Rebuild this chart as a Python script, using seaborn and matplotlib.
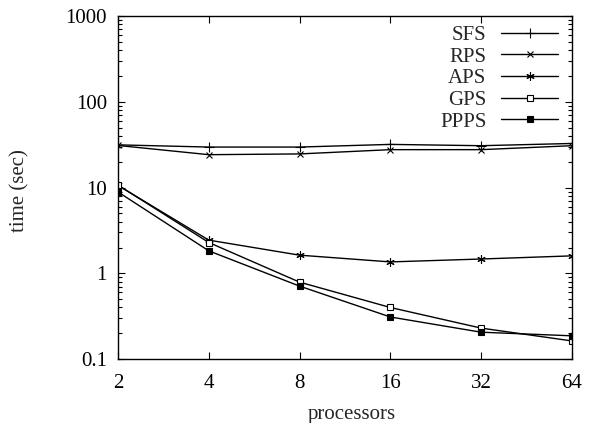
import numpy as np
import pandas as pd
import seaborn as sns
import matplotlib.pyplot as plt
from matplotlib.ticker import FixedLocator, NullLocator, LogLocator, NullFormatter

# --------------------------------------------------------------
# Data
# --------------------------------------------------------------
processors = [2, 4, 8, 16, 32, 64]
sfs = [31.5, 29.7, 29.7, 31.9, 30.8, 32.7]
rps = [31.0, 24.2, 24.7, 27.7, 27.7, 30.8]
aps = [10.6, 2.44, 1.63, 1.36, 1.47, 1.60]
gps = [10.7, 2.29, 0.79, 0.40, 0.23, 0.163]
ppps = [8.9, 1.83, 0.71, 0.31, 0.206, 0.187]

series_names = ["SFS", "RPS", "APS", "GPS", "PPPS"]
series_values = [sfs, rps, aps, gps, ppps]

# marker styles per series (gnuplot look)
marker_styles = {
    "SFS": dict(marker="+", markersize=7, mfc="black", mew=0.8),
    "RPS": dict(marker="x", markersize=5, mfc="black", mew=0.8),
    "APS": dict(marker=(6, 2, 0), markersize=6, mfc="black", mew=0.8),
    "GPS": dict(marker="s", markersize=4.5, mfc="white", mew=0.8),
    "PPPS": dict(marker="s", markersize=4.5, mfc="black", mew=0.8),
}

sns.set_theme(style="ticks")
plt.rcParams["font.family"] = ["Liberation Serif", "DejaVu Serif"]

fig = plt.figure(figsize=(5.97, 4.23), dpi=100)
ax = fig.add_axes([0.1977, 0.151, 0.7603, 0.811])

for name, vals in zip(series_names, series_values):
    df = pd.DataFrame({"processors": processors, "time": vals})
    sns.lineplot(data=df, x="processors", y="time", ax=ax, color="black",
                 linewidth=1.0, mec="black", label=name,
                 **marker_styles[name])

ax.set_xscale("log", base=2)
ax.set_yscale("log")
ax.set_xlim(2, 64)
ax.set_ylim(0.1, 1000)

ax.xaxis.set_major_locator(FixedLocator(processors))
ax.xaxis.set_minor_locator(NullLocator())
ax.set_xticklabels([str(p) for p in processors])
ax.yaxis.set_major_locator(FixedLocator([0.1, 1, 10, 100, 1000]))
ax.set_yticklabels(["0.1", "1", "10", "100", "1000"])
ax.yaxis.set_minor_locator(LogLocator(base=10, subs=np.arange(2, 10)))
ax.yaxis.set_minor_formatter(NullFormatter())

ax.tick_params(which="both", direction="in", top=True, right=True,
               labelsize=15, colors="black")
ax.tick_params(axis="x", pad=11)
ax.tick_params(axis="y", pad=8)
ax.tick_params(which="major", length=5, width=0.8)
ax.tick_params(which="minor", length=3, width=0.8)
for s in ax.spines.values():
    s.set_linewidth(1.0)
    s.set_color("black")

ax.set_xlabel("processors", fontsize=15)
ax.set_ylabel("time (sec)", fontsize=15)
ax.xaxis.set_label_coords(0.515, -0.135)
ax.yaxis.set_label_coords(-0.195, 0.49)

ax.legend(loc="upper right", bbox_to_anchor=(0.993, 1.003), frameon=False,
          markerfirst=False, fontsize=15, handlelength=2.75,
          handletextpad=0.7, labelspacing=0.1, borderaxespad=0.1,
          numpoints=1)

fig.savefig("out.png", dpi=100)
